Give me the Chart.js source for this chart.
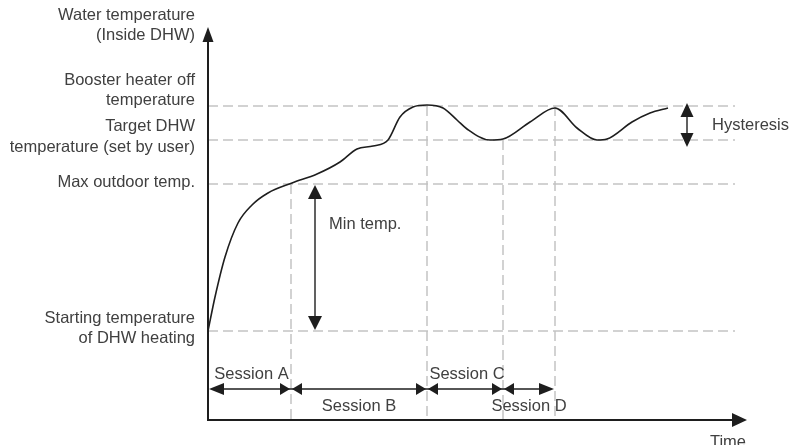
<!DOCTYPE html>
<html>
<head>
<meta charset="utf-8">
<script src="https://cdn.jsdelivr.net/npm/chart.js@4/dist/chart.umd.min.js"></script>
<style>
html,body{margin:0;padding:0;background:#fff;}
#c{display:block;}
</style>
</head>
<body>
<canvas id="c" width="792" height="445"></canvas>
<script>
// ---- data (time units / temperature units) ----
const xMax = 539;
const yMax = 393;
const curveX = [0, 7, 17, 30, 44, 60, 84, 109, 132, 149, 165, 180, 192, 205, 219, 235, 249, 259, 282, 295, 322, 347, 369, 389, 399, 424, 442, 460];
const curveY = [89, 123, 163, 197, 215, 227, 237, 246, 258, 271, 274, 280, 303, 313, 315, 312, 300, 291, 280, 281, 298, 312, 292, 280, 281, 298, 307, 312];
const levelValues = [89, 236, 280, 314];
const levelLabels = [["Starting temperature", "of DHW heating"], ["Max outdoor temp."], ["Target DHW", "temperature (set by user)"], ["Booster heater off", "temperature"]];
const levelLabelOffsets = [[-13, 7], [-2], [-14, 7], [-26, -6]];
const dashEndX = 527;
const sessionBounds = [0, 83, 219, 295, 347];
const sessionTops = [null, 236, 314, 280, 314];
const sessionLabels = ["Session A", "Session B", "Session C", "Session D"];
const sessionLabelBelow = [false, true, false, true];
const sessionArrowY = 31;
const minTempX = 107;
const minTempRange = [90, 235];
const hysteresisX = 479;
const hysteresisRange = [273, 317];
const yAxisTitle = ["Water temperature", "(Inside DHW)"];
const xAxisTitle = "Time";

// ---- datasets ----
const datasets = [];
datasets.push({
  label: 'curve',
  data: curveX.map((x, i) => ({x: x, y: curveY[i]})),
  showLine: true, borderColor: '#1e1e1e', borderWidth: 1.6,
  pointRadius: 0, cubicInterpolationMode: 'monotone', fill: false, order: 0, clip: false
});
levelValues.forEach((v, i) => {
  datasets.push({
    label: 'level' + i,
    data: [{x: 0, y: v}, {x: dashEndX, y: v}],
    showLine: true, borderColor: '#c3c3c3', borderWidth: 1.5, borderDash: [10, 5],
    pointRadius: 0, order: 2, clip: false
  });
});
sessionBounds.forEach((b, i) => {
  if (sessionTops[i] === null) return;
  datasets.push({
    label: 'vline' + i,
    data: [{x: b, y: sessionTops[i]}, {x: b, y: 0}],
    showLine: true, borderColor: '#c3c3c3', borderWidth: 1.5, borderDash: [10, 5],
    pointRadius: 0, order: 2, clip: false
  });
});

const FONT = '16.5px "Liberation Sans", Arial, sans-serif';
const TXT = '#404040';

function tri(ctx, tipX, tipY, dir, len, half) {
  ctx.beginPath();
  ctx.moveTo(tipX, tipY);
  if (dir === 'left') { ctx.lineTo(tipX + len, tipY - half); ctx.lineTo(tipX + len, tipY + half); }
  if (dir === 'right') { ctx.lineTo(tipX - len, tipY - half); ctx.lineTo(tipX - len, tipY + half); }
  if (dir === 'up') { ctx.lineTo(tipX - half, tipY + len); ctx.lineTo(tipX + half, tipY + len); }
  if (dir === 'down') { ctx.lineTo(tipX - half, tipY - len); ctx.lineTo(tipX + half, tipY - len); }
  ctx.closePath();
  ctx.fill();
}

const decor = {
  id: 'decor',
  afterDatasetsDraw(chart) {
    const ctx = chart.ctx;
    const xs = chart.scales.x, ys = chart.scales.y;
    const X = v => xs.getPixelForValue(v), Y = v => ys.getPixelForValue(v);
    ctx.save();
    ctx.fillStyle = '#1e1e1e';
    ctx.strokeStyle = '#1e1e1e';
    // axes
    ctx.lineWidth = 2;
    ctx.beginPath();
    ctx.moveTo(X(0), Y(0)); ctx.lineTo(X(0), Y(yMax) + 14);
    ctx.moveTo(X(0) - 1, Y(0)); ctx.lineTo(X(xMax) - 14, Y(0));
    ctx.stroke();
    tri(ctx, X(0), Y(yMax), 'up', 15, 5.5);
    tri(ctx, X(xMax), Y(0), 'right', 15, 7);

    // session arrows
    ctx.lineWidth = 1.4;
    const ay = Y(sessionArrowY);
    ctx.beginPath();
    ctx.moveTo(X(sessionBounds[0]) + 5, ay);
    ctx.lineTo(X(sessionBounds[sessionBounds.length - 1]) - 5, ay);
    ctx.stroke();
    for (let i = 0; i < sessionBounds.length - 1; i++) {
      const a = X(sessionBounds[i]), b = X(sessionBounds[i + 1]);
      const la = i === 0 ? 15 : 10;
      const lb = i === sessionBounds.length - 2 ? 15 : 10;
      tri(ctx, a + 1, ay, 'left', la, 6);
      tri(ctx, b - 1, ay, 'right', lb, 6);
    }
    // min temp arrow
    const mx = X(minTempX);
    ctx.beginPath();
    ctx.moveTo(mx, Y(minTempRange[1]) + 8); ctx.lineTo(mx, Y(minTempRange[0]) - 8);
    ctx.stroke();
    tri(ctx, mx, Y(minTempRange[1]), 'up', 14, 7);
    tri(ctx, mx, Y(minTempRange[0]), 'down', 14, 7);
    // hysteresis arrow
    const hx = X(hysteresisX);
    ctx.beginPath();
    ctx.moveTo(hx, Y(hysteresisRange[1]) + 8); ctx.lineTo(hx, Y(hysteresisRange[0]) - 8);
    ctx.stroke();
    tri(ctx, hx, Y(hysteresisRange[1]), 'up', 14, 6.5);
    tri(ctx, hx, Y(hysteresisRange[0]), 'down', 14, 6.5);

    // texts
    ctx.font = FONT;
    ctx.fillStyle = TXT;
    ctx.textBaseline = 'middle';
    ctx.textAlign = 'right';
    const lx = X(0) - 13;
    ctx.fillText(yAxisTitle[0], lx, Y(yMax) - 12);
    ctx.fillText(yAxisTitle[1], lx, Y(yMax) + 8);
    levelValues.forEach((v, i) => {
      levelLabels[i].forEach((t, j) => ctx.fillText(t, lx, Y(v) + levelLabelOffsets[i][j]));
    });
    ctx.textAlign = 'center';
    for (let i = 0; i < sessionLabels.length; i++) {
      const cx = (X(sessionBounds[i]) + X(sessionBounds[i + 1])) / 2;
      ctx.fillText(sessionLabels[i], cx + (sessionLabelBelow[i] ? 0 : 2), ay + (sessionLabelBelow[i] ? 17 : -15));
    }
    ctx.textBaseline = 'alphabetic';
    ctx.fillText(xAxisTitle, X(xMax) - 19, Y(0) + 27);
    ctx.textBaseline = 'middle';
    ctx.textAlign = 'left';
    ctx.fillText('Min temp.', mx + 14, (Y(minTempRange[0]) + Y(minTempRange[1])) / 2 - 33);
    ctx.fillText('Hysteresis', hx + 25, (Y(hysteresisRange[0]) + Y(hysteresisRange[1])) / 2);
    ctx.restore();
  }
};

new Chart(document.getElementById('c'), {
  type: 'scatter',
  data: {datasets: datasets},
  options: {
    responsive: false,
    animation: false,
    devicePixelRatio: 1,
    layout: {padding: {left: 208, right: 45, top: 27, bottom: 25}},
    plugins: {legend: {display: false}, tooltip: {enabled: false}},
    scales: {
      x: {type: 'linear', display: false, min: 0, max: xMax},
      y: {type: 'linear', display: false, min: 0, max: yMax}
    }
  },
  plugins: [decor]
});
</script>
</body>
</html>
